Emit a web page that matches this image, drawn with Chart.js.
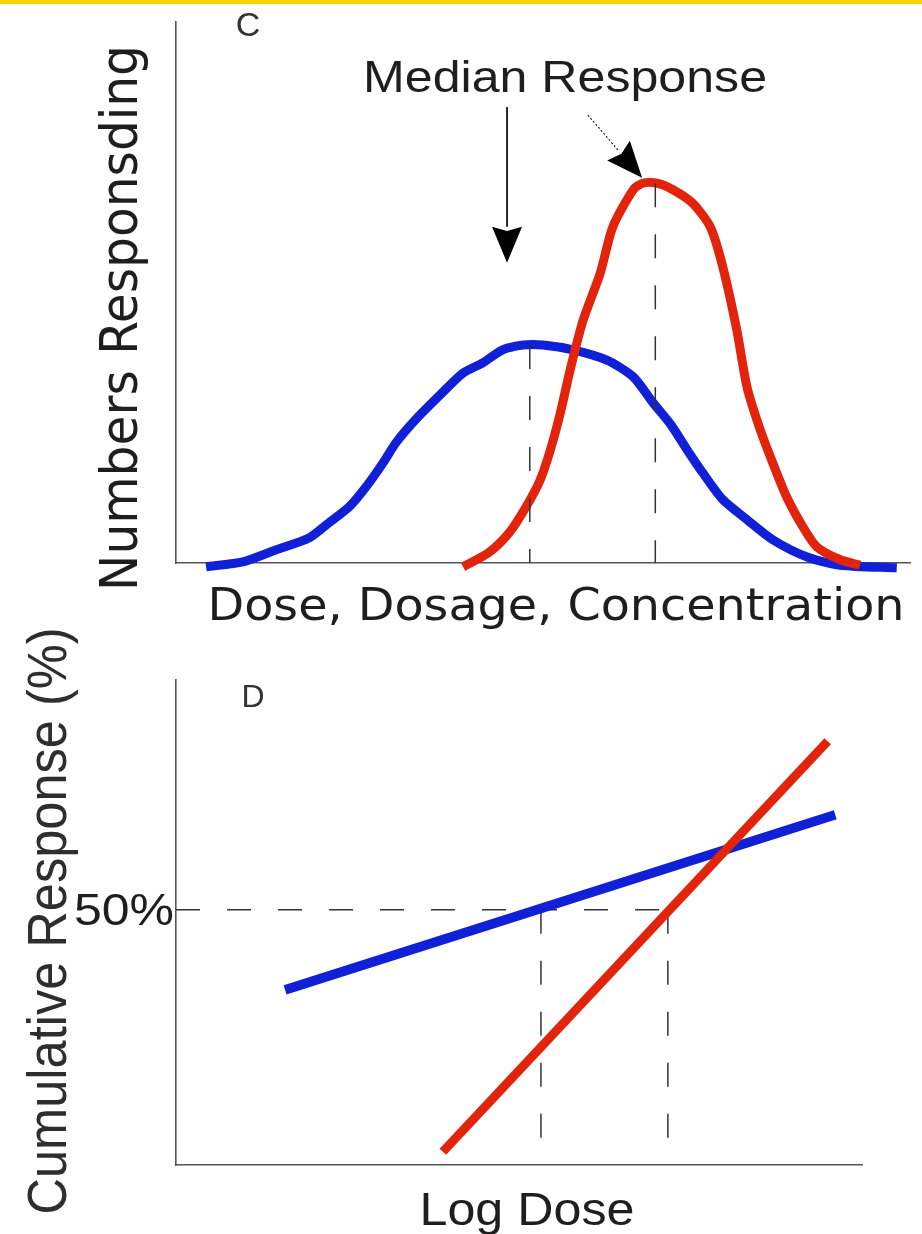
<!DOCTYPE html>
<html><head><meta charset="utf-8">
<script src="https://cdn.jsdelivr.net/npm/chart.js@4.4.1/dist/chart.umd.min.js"></script>
<style>
html,body{margin:0;padding:0;background:#fff;width:922px;height:1234px;overflow:hidden;}
#bar{position:absolute;left:0;top:0;width:922px;height:4px;background:#FFD400;}
.wrap{position:absolute;left:0;width:922px;}
#w1{top:0;height:640px;}
#w2{top:600px;height:634px;}
canvas{display:block;}
</style></head><body>
<div class="wrap" id="w1"><canvas id="c1" width="922" height="640"></canvas></div>
<div class="wrap" id="w2"><canvas id="c2" width="922" height="634"></canvas></div>
<div id="bar"></div>
<script>
// ---------- Panel C: frequency distributions ----------
const doseBlueC = [0.41,0.91,1.36,1.81,2.08,2.36,2.59,2.82,3.00,3.27,3.60,3.91,4.18,4.45,4.73,5.00,5.41,5.87,6.23,6.50,6.74,6.96,7.18,7.45,7.78,8.13,8.60,9.05,9.82];
const respBlueC = [-0.7,0.2,2.4,4.6,7.4,10.4,14.1,18.5,22.3,26.6,31.1,35.1,37.0,39.4,40.3,40.3,39.4,37.5,34.4,29.6,25.6,21.0,16.6,11.7,8.0,4.3,1.1,-0.4,-0.9];
const doseRedC  = [3.91,4.26,4.54,4.77,4.96,5.10,5.23,5.37,5.54,5.78,5.95,6.23,6.36,6.55,6.77,7.04,7.28,7.45,7.64,7.78,7.96,8.13,8.32,8.54,8.73,9.05,9.32];
const respRedC  = [-0.7,1.9,5.6,10.4,15.3,20.9,27.4,35.7,44.6,53.6,62.1,69.0,70.2,70.2,69.0,66.5,62.1,54.7,43.1,32.5,24.6,18.5,12.2,6.7,3.0,0.6,-0.4];
const medianDoseC = [4.82, 6.53];
const medianRespC = [40.3, 70.2];
// annotation arrows (data units): [fromDose, fromResp, toDose, toResp]
const arrowLeftC  = [4.51, 84.3, 4.51, 55.5];
const arrowRightC = [5.61, 82.8, 6.35, 71.2];

// ---------- Panel D: cumulative (log-dose) lines ----------
const logDoseBlueD = [1.59, 9.61];
const cumBlueD     = [34.3, 68.6];
const logDoseRedD  = [3.89, 9.50];
const cumRedD      = [2.6, 83.0];
const medianDoseD  = [5.32, 7.17];
const halfLevelD   = 50;
const yTickLabelsD = ['50%'];

const BLUE = 'rgb(16,32,214)';
const RED  = 'rgb(226,36,12)';
const TXT  = '#1e1e1e';

function pts(xs, ys){ return xs.map((x,i)=>({x:x, y:ys[i]})); }

function fitText(ctx, text, x, y, size, family, width, rot, color){
  ctx.save();
  ctx.font = size + 'px ' + family;
  const w = ctx.measureText(text).width;
  ctx.translate(x, y);
  if (rot) ctx.rotate(rot);
  if (width) ctx.scale(width / w, 1);
  ctx.textAlign = 'center';
  ctx.textBaseline = 'alphabetic';
  ctx.fillStyle = color || TXT;
  ctx.fillText(text, 0, 0);
  ctx.restore();
}

function axis(min, max, size, isX){
  return {
    type:'linear', min:min, max:max, display:true,
    ticks:{display:false},
    grid:{display:false, drawTicks:false},
    border:{display:true, color:'#555', width:1.6},
    afterFit: function(s){ if (isX) s.height = size; else s.width = size; }
  };
}

function drawArrow(ctx, x1, y1, x2, y2, lw, dash, headLen, headHalf){
  const dx = x2-x1, dy = y2-y1, L = Math.hypot(dx,dy);
  const ux = dx/L, uy = dy/L;
  const bx = x2 - ux*headLen, by = y2 - uy*headLen;
  ctx.save();
  ctx.strokeStyle = '#111'; ctx.lineWidth = lw;
  ctx.setLineDash(dash || []);
  ctx.beginPath(); ctx.moveTo(x1,y1); ctx.lineTo(bx,by); ctx.stroke();
  ctx.setLineDash([]);
  ctx.fillStyle = '#000';
  ctx.beginPath();
  ctx.moveTo(x2,y2);
  ctx.lineTo(bx - uy*headHalf, by + ux*headHalf);
  ctx.lineTo(bx + ux*headLen*0.12, by + uy*headLen*0.12);
  ctx.lineTo(bx + uy*headHalf, by - ux*headHalf);
  ctx.closePath(); ctx.fill();
  ctx.restore();
}

const dashStyle = {borderColor:'#333', borderWidth:1.5, borderDash:[24,27], pointRadius:0, showLine:true, fill:false, clip:false};

// ---------- Chart C ----------
const dsC = [
  {label:'blue', data:pts(doseBlueC, respBlueC), borderColor:BLUE, borderWidth:9, pointRadius:0, showLine:true, tension:0.25, clip:false, order:2, borderCapStyle:'butt'},
  {label:'red', data:pts(doseRedC, respRedC), borderColor:RED, borderWidth:9, pointRadius:0, showLine:true, tension:0.25, clip:false, order:1, borderCapStyle:'butt'}
];
medianDoseC.forEach((d,i)=>{
  dsC.push(Object.assign({label:'median'+i, data:[{x:d,y:medianRespC[i]},{x:d,y:0}], order:0}, dashStyle));
});

const plugC = {
  id:'annC',
  afterDraw(chart){
    const ctx = chart.ctx, sx = chart.scales.x, sy = chart.scales.y;
    [arrowLeftC].forEach(a=>drawArrow(ctx, sx.getPixelForValue(a[0]), sy.getPixelForValue(a[1]), sx.getPixelForValue(a[2]), sy.getPixelForValue(a[3]), 1.8, null, 36, 15));
    [arrowRightC].forEach(a=>drawArrow(ctx, sx.getPixelForValue(a[0]), sy.getPixelForValue(a[1]), sx.getPixelForValue(a[2]), sy.getPixelForValue(a[3]), 1.1, [2,2], 36, 15));
    fitText(ctx, 'Median Response', 565, 92, 44, '"Liberation Sans", Arial, sans-serif', 404);
    fitText(ctx, 'C', 248, 36, 34, '"Liberation Sans", Arial, sans-serif', 0, 0, '#333');
    fitText(ctx, 'Numbers Responsding', 137, 318, 51, '"DejaVu Sans", sans-serif', 546, -Math.PI/2);
    fitText(ctx, 'Dose, Dosage, Concentration', 556, 620, 44, '"DejaVu Sans", sans-serif', 697);
  }
};

new Chart(document.getElementById('c1'), {
  type:'scatter',
  data:{datasets:dsC},
  options:{
    responsive:false, animation:false,
    layout:{padding:{left:0, top:22, right:12, bottom:0}},
    plugins:{legend:{display:false}, tooltip:{enabled:false}},
    scales:{ x:axis(0,10,77,true), y:axis(0,100,176,false) }
  },
  plugins:[plugC]
});

// ---------- Chart D ----------
const dsD = [
  {label:'red', data:pts(logDoseRedD, cumRedD), borderColor:RED, borderWidth:9, pointRadius:0, showLine:true, clip:false, order:0},
  {label:'blue', data:pts(logDoseBlueD, cumBlueD), borderColor:BLUE, borderWidth:9.5, pointRadius:0, showLine:true, clip:false, order:1},
  Object.assign({label:'half', data:[{x:0,y:halfLevelD},{x:medianDoseD[1],y:halfLevelD}], order:2}, dashStyle)
];
medianDoseD.forEach((d,i)=>{
  dsD.push(Object.assign({label:'medD'+i, data:[{x:d,y:halfLevelD},{x:d,y:0}], order:2}, dashStyle));
});

const plugD = {
  id:'annD',
  afterDraw(chart){
    const ctx = chart.ctx, sy = chart.scales.y;
    const yp = sy.getPixelForValue(halfLevelD);
    fitText(ctx, yTickLabelsD[0], 124, yp + 15, 44, '"Liberation Sans", Arial, sans-serif', 100);
    fitText(ctx, 'D', 253, 107, 32, '"Liberation Sans", Arial, sans-serif', 0, 0, '#333');
    fitText(ctx, 'Cumulative Response (%)', 66, 321, 55, '"Liberation Sans", Arial, sans-serif', 587, -Math.PI/2, '#2e2e2e');
    fitText(ctx, 'Log Dose', 527, 625, 46, '"Liberation Sans", Arial, sans-serif', 215);
  }
};

new Chart(document.getElementById('c2'), {
  type:'scatter',
  data:{datasets:dsD},
  options:{
    responsive:false, animation:false,
    layout:{padding:{left:0, top:80, right:60, bottom:0}},
    plugins:{legend:{display:false}, tooltip:{enabled:false}},
    scales:{ x:axis(0,10,69,true), y:axis(0,95,176,false) }
  },
  plugins:[plugD]
});
</script>
</body></html>
